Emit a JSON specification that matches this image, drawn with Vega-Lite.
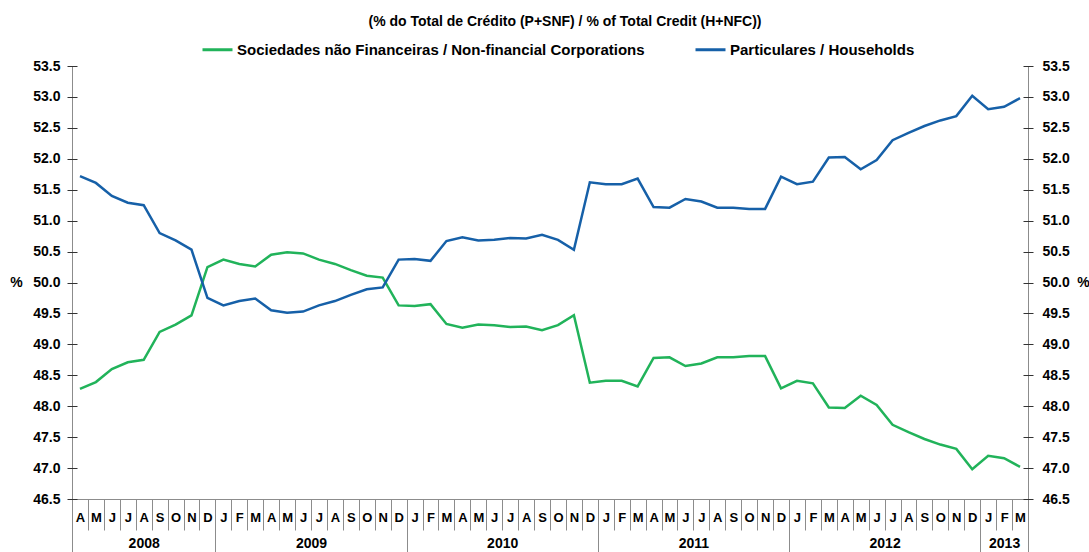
{
  "$schema": "https://vega.github.io/schema/vega-lite/v6.json",
  "width": 956,
  "height": 433,
  "autosize": "none",
  "padding": {"left": 72, "top": 66, "right": 61, "bottom": 53},
  "background": "white",
  "title": {"text": "(% do Total de Crédito  (P+SNF)  / % of Total Credit (H+NFC))", "frame": "group", "anchor": "middle", "offset": -7, "baseline": "alphabetic", "dx": 15, "font": "Liberation Sans", "fontSize": 14, "fontWeight": "bold", "color": "#000000"},
  "data": {"values": [
    {"i":0,"mes":"2008-04","P":51.72,"SNF":48.28},
    {"i":1,"mes":"2008-05","P":51.61,"SNF":48.39},
    {"i":2,"mes":"2008-06","P":51.40,"SNF":48.60},
    {"i":3,"mes":"2008-07","P":51.29,"SNF":48.71},
    {"i":4,"mes":"2008-08","P":51.25,"SNF":48.75},
    {"i":5,"mes":"2008-09","P":50.80,"SNF":49.20},
    {"i":6,"mes":"2008-10","P":50.68,"SNF":49.32},
    {"i":7,"mes":"2008-11","P":50.53,"SNF":49.47},
    {"i":8,"mes":"2008-12","P":49.75,"SNF":50.25},
    {"i":9,"mes":"2009-01","P":49.63,"SNF":50.37},
    {"i":10,"mes":"2009-02","P":49.70,"SNF":50.30},
    {"i":11,"mes":"2009-03","P":49.74,"SNF":50.26},
    {"i":12,"mes":"2009-04","P":49.55,"SNF":50.45},
    {"i":13,"mes":"2009-05","P":49.51,"SNF":50.49},
    {"i":14,"mes":"2009-06","P":49.53,"SNF":50.47},
    {"i":15,"mes":"2009-07","P":49.63,"SNF":50.37},
    {"i":16,"mes":"2009-08","P":49.70,"SNF":50.30},
    {"i":17,"mes":"2009-09","P":49.80,"SNF":50.20},
    {"i":18,"mes":"2009-10","P":49.89,"SNF":50.11},
    {"i":19,"mes":"2009-11","P":49.92,"SNF":50.08},
    {"i":20,"mes":"2009-12","P":50.37,"SNF":49.63},
    {"i":21,"mes":"2010-01","P":50.38,"SNF":49.62},
    {"i":22,"mes":"2010-02","P":50.35,"SNF":49.65},
    {"i":23,"mes":"2010-03","P":50.67,"SNF":49.33},
    {"i":24,"mes":"2010-04","P":50.73,"SNF":49.27},
    {"i":25,"mes":"2010-05","P":50.68,"SNF":49.32},
    {"i":26,"mes":"2010-06","P":50.69,"SNF":49.31},
    {"i":27,"mes":"2010-07","P":50.72,"SNF":49.28},
    {"i":28,"mes":"2010-08","P":50.71,"SNF":49.29},
    {"i":29,"mes":"2010-09","P":50.77,"SNF":49.23},
    {"i":30,"mes":"2010-10","P":50.69,"SNF":49.31},
    {"i":31,"mes":"2010-11","P":50.53,"SNF":49.47},
    {"i":32,"mes":"2010-12","P":51.62,"SNF":48.38},
    {"i":33,"mes":"2011-01","P":51.59,"SNF":48.41},
    {"i":34,"mes":"2011-02","P":51.59,"SNF":48.41},
    {"i":35,"mes":"2011-03","P":51.68,"SNF":48.32},
    {"i":36,"mes":"2011-04","P":51.22,"SNF":48.78},
    {"i":37,"mes":"2011-05","P":51.21,"SNF":48.79},
    {"i":38,"mes":"2011-06","P":51.35,"SNF":48.65},
    {"i":39,"mes":"2011-07","P":51.31,"SNF":48.69},
    {"i":40,"mes":"2011-08","P":51.21,"SNF":48.79},
    {"i":41,"mes":"2011-09","P":51.21,"SNF":48.79},
    {"i":42,"mes":"2011-10","P":51.19,"SNF":48.81},
    {"i":43,"mes":"2011-11","P":51.19,"SNF":48.81},
    {"i":44,"mes":"2011-12","P":51.71,"SNF":48.29},
    {"i":45,"mes":"2012-01","P":51.59,"SNF":48.41},
    {"i":46,"mes":"2012-02","P":51.63,"SNF":48.37},
    {"i":47,"mes":"2012-03","P":52.02,"SNF":47.98},
    {"i":48,"mes":"2012-04","P":52.03,"SNF":47.97},
    {"i":49,"mes":"2012-05","P":51.83,"SNF":48.17},
    {"i":50,"mes":"2012-06","P":51.98,"SNF":48.02},
    {"i":51,"mes":"2012-07","P":52.30,"SNF":47.70},
    {"i":52,"mes":"2012-08","P":52.42,"SNF":47.58},
    {"i":53,"mes":"2012-09","P":52.53,"SNF":47.47},
    {"i":54,"mes":"2012-10","P":52.62,"SNF":47.38},
    {"i":55,"mes":"2012-11","P":52.69,"SNF":47.31},
    {"i":56,"mes":"2012-12","P":53.02,"SNF":46.98},
    {"i":57,"mes":"2013-01","P":52.80,"SNF":47.20},
    {"i":58,"mes":"2013-02","P":52.84,"SNF":47.16},
    {"i":59,"mes":"2013-03","P":52.98,"SNF":47.02}
  ]},
  "transform": [{"fold": ["SNF", "P"], "as": ["serie", "valor"]}],
  "layer": [
    {
      "mark": {"type": "line", "strokeWidth": 2.5},
      "encoding": {
        "x": {"field": "i", "type": "quantitative",
          "scale": {"domain": [-0.5, 59.5], "nice": false, "zero": false},
          "axis": {"orient": "bottom", "title": null,
            "values": [0,1,2,3,4,5,6,7,8,9,10,11,12,13,14,15,16,17,18,19,20,21,22,23,24,25,26,27,28,29,30,31,32,33,34,35,36,37,38,39,40,41,42,43,44,45,46,47,48,49,50,51,52,53,54,55,56,57,58,59],
            "labelExpr": "['J','F','M','A','M','J','J','A','S','O','N','D'][(datum.value+3)%12]",
            "ticks": false, "tickSize": 0, "domain": true, "domainColor": "#8c8c8c",
            "labelFontSize": 13,
            "labelPadding": 18, "labelBaseline": "middle", "labelOverlap": false, "labelFlush": false, "labelBound": false}},
        "y": {"field": "valor", "type": "quantitative",
          "scale": {"domain": [46.5, 53.5], "nice": false, "zero": false},
          "axis": {"orient": "left",
            "values": [46.5,47,47.5,48,48.5,49,49.5,50,50.5,51,51.5,52,52.5,53,53.5],
            "format": ".1f", "ticks": false, "tickSize": 0, "domain": true, "domainColor": "#8c8c8c",
            "labelFontSize": 14,
            "labelPadding": 12, "labelOverlap": false, "labelFlush": false,
            "title": "%", "titleAngle": 0, "titleX": -56, "titleY": 216.5, "titleAlign": "center", "titleBaseline": "middle",
            "titleFont": "Liberation Sans", "titleFontSize": 14, "titleFontWeight": "bold", "titleColor": "#000000"}},
        "color": {"field": "serie", "type": "nominal",
          "scale": {"domain": ["SNF", "P"], "range": ["#21b35a", "#1660a8"]},
          "legend": {"orient": "none", "legendX": 129, "legendY": -33, "direction": "horizontal", "title": null,
            "symbolType": "stroke", "symbolSize": 900, "symbolStrokeWidth": 3,
            "labelFont": "Liberation Sans", "labelFontSize": 15, "labelFontWeight": "bold", "labelColor": "#000000",
            "labelLimit": 700, "labelOffset": 3, "columnPadding": 44, "padding": 0,
            "labelExpr": "datum.label == 'SNF' ? 'Sociedades não Financeiras / Non-financial Corporations' : 'Particulares / Households'"}}
      }
    },
    {
      "mark": {"type": "line", "opacity": 0},
      "encoding": {
        "x": {"field": "i", "type": "quantitative",
          "scale": {"domain": [-0.5, 59.5], "nice": false, "zero": false},
          "axis": {"orient": "bottom", "title": null,
            "values": [-0.5,0.5,1.5,2.5,3.5,4.5,5.5,6.5,7.5,8.5,9.5,10.5,11.5,12.5,13.5,14.5,15.5,16.5,17.5,18.5,19.5,20.5,21.5,22.5,23.5,24.5,25.5,26.5,27.5,28.5,29.5,30.5,31.5,32.5,33.5,34.5,35.5,36.5,37.5,38.5,39.5,40.5,41.5,42.5,43.5,44.5,45.5,46.5,47.5,48.5,49.5,50.5,51.5,52.5,53.5,54.5,55.5,56.5,57.5,58.5,59.5],
            "labels": false, "domain": false, "ticks": true, "tickSize": 31, "tickColor": "#8c8c8c", "tickWidth": 1}},
        "y": {"field": "valor", "type": "quantitative",
          "scale": {"domain": [46.5, 53.5], "nice": false, "zero": false},
          "axis": {"orient": "left", "title": null,
            "values": [46.5,47,47.5,48,48.5,49,49.5,50,50.5,51,51.5,52,52.5,53,53.5],
            "labels": false, "domain": false, "ticks": true, "tickSize": 10, "offset": -5, "tickColor": "#333333", "tickWidth": 1}},
        "detail": {"field": "serie", "type": "nominal"}
      }
    },
    {
      "mark": {"type": "line", "opacity": 0},
      "encoding": {
        "x": {"field": "i", "type": "quantitative",
          "scale": {"domain": [-0.5, 59.5], "nice": false, "zero": false},
          "axis": {"orient": "bottom", "title": null,
            "values": [4, 14.5, 26.5, 38.5, 50.5, 58],
            "labelExpr": "datum.value < 9 ? '2008' : datum.value < 21 ? '2009' : datum.value < 33 ? '2010' : datum.value < 45 ? '2011' : datum.value < 57 ? '2012' : '2013'",
            "ticks": false, "tickSize": 0, "domain": false,
            "labelFontSize": 14,
            "labelPadding": 44, "labelBaseline": "middle", "labelOverlap": false, "labelFlush": false, "labelBound": false}},
        "y": {"field": "valor", "type": "quantitative",
          "scale": {"domain": [46.5, 53.5], "nice": false, "zero": false},
          "axis": {"orient": "right",
            "values": [46.5,47,47.5,48,48.5,49,49.5,50,50.5,51,51.5,52,52.5,53,53.5],
            "format": ".1f", "ticks": false, "tickSize": 0, "domain": true, "domainColor": "#8c8c8c",
            "labelFontSize": 14,
            "labelPadding": 14, "labelOverlap": false, "labelFlush": false,
            "title": "%", "titleAngle": 0, "titleX": 55, "titleY": 216.5, "titleAlign": "center", "titleBaseline": "middle",
            "titleFont": "Liberation Sans", "titleFontSize": 14, "titleFontWeight": "bold", "titleColor": "#000000"}},
        "detail": {"field": "serie", "type": "nominal"}
      }
    },
    {
      "mark": {"type": "line", "opacity": 0},
      "encoding": {
        "x": {"field": "i", "type": "quantitative",
          "scale": {"domain": [-0.5, 59.5], "nice": false, "zero": false},
          "axis": {"orient": "bottom", "title": null,
            "values": [-0.5, 8.5, 20.5, 32.5, 44.5, 56.5, 59.5],
            "labels": false, "domain": false, "ticks": true, "tickSize": 53, "tickColor": "#8c8c8c", "tickWidth": 1}},
        "y": {"field": "valor", "type": "quantitative",
          "scale": {"domain": [46.5, 53.5], "nice": false, "zero": false},
          "axis": {"orient": "right", "title": null,
            "values": [46.5,47,47.5,48,48.5,49,49.5,50,50.5,51,51.5,52,52.5,53,53.5],
            "labels": false, "domain": false, "ticks": true, "tickSize": 10, "offset": -5, "tickColor": "#333333", "tickWidth": 1}},
        "detail": {"field": "serie", "type": "nominal"}
      }
    }
  ],
  "resolve": {"axis": {"x": "independent", "y": "independent"}},
  "config": {
    "view": {"stroke": null},
    "font": "Liberation Sans",
    "axis": {"labelFont": "Liberation Sans", "labelFontWeight": "bold", "labelFontSize": 13, "labelColor": "#000000", "grid": false}
  }
}
